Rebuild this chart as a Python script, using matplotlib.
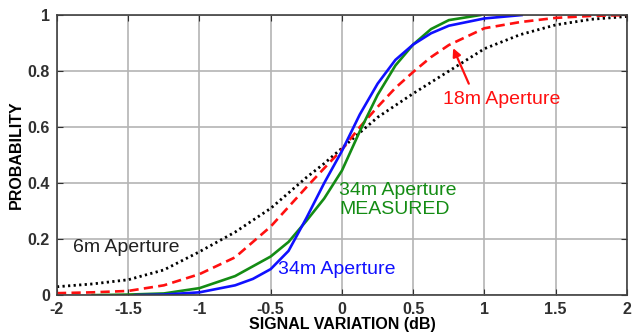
import matplotlib
matplotlib.use("Agg")
import matplotlib.pyplot as plt

plt.rcParams["font.family"] = ["Liberation Sans", "DejaVu Sans"]

# signal variation (dB) and cumulative probability
x_6m = [-2, -1.75, -1.5, -1.25, -1, -0.75, -0.5, -0.25, -0.125, 0, 0.125, 0.25, 0.5, 0.75, 1, 1.25, 1.5, 1.75, 2]
p_6m = [0.03, 0.04, 0.055, 0.09, 0.155, 0.225, 0.31, 0.42, 0.47, 0.525, 0.58, 0.635, 0.72, 0.80, 0.88, 0.93, 0.965, 0.985, 0.995]

x_18m = [-2, -1.75, -1.5, -1.25, -1, -0.75, -0.5, -0.25, -0.125, 0, 0.125, 0.25, 0.375, 0.5, 0.625, 0.75, 1, 1.25, 1.5, 1.75, 2]
p_18m = [0.007, 0.01, 0.015, 0.035, 0.075, 0.135, 0.245, 0.385, 0.453, 0.52, 0.60, 0.672, 0.74, 0.797, 0.85, 0.893, 0.953, 0.975, 0.99, 0.997, 1.0]

x_34m = [-1.45, -1.25, -1, -0.75, -0.625, -0.5, -0.375, -0.25, -0.125, 0, 0.125, 0.25, 0.375, 0.5, 0.625, 0.75, 1, 1.26]
p_34m = [0.0, 0.002, 0.01, 0.035, 0.058, 0.093, 0.158, 0.275, 0.40, 0.515, 0.645, 0.755, 0.84, 0.895, 0.935, 0.962, 0.988, 1.0]

x_meas = [-1.75, -1.5, -1.25, -1, -0.75, -0.5, -0.375, -0.25, -0.125, 0, 0.125, 0.25, 0.375, 0.5, 0.625, 0.75, 0.97]
p_meas = [0.0, 0.002, 0.006, 0.025, 0.068, 0.138, 0.19, 0.265, 0.345, 0.445, 0.585, 0.715, 0.82, 0.895, 0.95, 0.982, 1.0]

x_ticks = [-2, -1.5, -1, -0.5, 0, 0.5, 1, 1.5, 2]
x_ticklabels = ["-2", "-1.5", "-1", "-0.5", "0", "0.5", "1", "1.5", "2"]
y_ticks = [0, 0.2, 0.4, 0.6, 0.8, 1]
y_ticklabels = ["0", "0.2", "0.4", "0.6", "0.8", "1"]

fig = plt.figure(figsize=(6.33, 3.35), dpi=100)
ax = fig.add_axes([0.090, 0.119, 0.9005, 0.836])

ax.plot(x_6m, p_6m, color="black", lw=2.0, linestyle=(0, (0.8, 1.2)))
ax.plot(x_18m, p_18m, color="#ff1010", lw=1.9, linestyle=(0, (3.5, 2)))
ax.plot(x_meas, p_meas, color="#148c14", lw=1.9)
ax.plot(x_34m, p_34m, color="#1010ff", lw=1.9)

ax.set_xlim(-2, 2)
ax.set_ylim(0, 1)
ax.set_xticks(x_ticks)
ax.set_xticklabels(x_ticklabels)
ax.set_yticks(y_ticks)
ax.set_yticklabels(y_ticklabels)
for lab in ax.get_xticklabels() + ax.get_yticklabels():
    lab.set_fontweight("bold")
    lab.set_fontsize(11.5)
ax.tick_params(direction="in", length=4, top=True, right=True, colors="#303030")
ax.tick_params(axis="x", pad=5)
ax.tick_params(axis="y", pad=5)
ax.grid(True, color="#b4b4b4", lw=1.2)
ax.set_axisbelow(True)
for s in ax.spines.values():
    s.set_color("#404040")
    s.set_linewidth(1.2)

ax.set_xlabel("SIGNAL VARIATION (dB)", fontweight="bold", fontsize=11.5, labelpad=0)
ax.set_ylabel("PROBABILITY", fontweight="bold", fontsize=11.5, labelpad=3)

ax.text(-1.89, 0.17, "6m Aperture", color="#202020", fontsize=14, va="center")
ax.text(-0.45, 0.09, "34m Aperture", color="#1010ff", fontsize=14, va="center")
ax.text(-0.02, 0.34, "34m Aperture\nMEASURED", color="#148c14", fontsize=14,
        va="center", linespacing=1.15)
ax.text(0.71, 0.70, "18m Aperture", color="#ff1010", fontsize=14, va="center")
ax.annotate("", xy=(0.78, 0.882), xytext=(0.89, 0.755),
            arrowprops=dict(arrowstyle="-|>", color="#ff1010", lw=1.6,
                            mutation_scale=12, shrinkA=0, shrinkB=0))

fig.savefig("out.png", dpi=100)
